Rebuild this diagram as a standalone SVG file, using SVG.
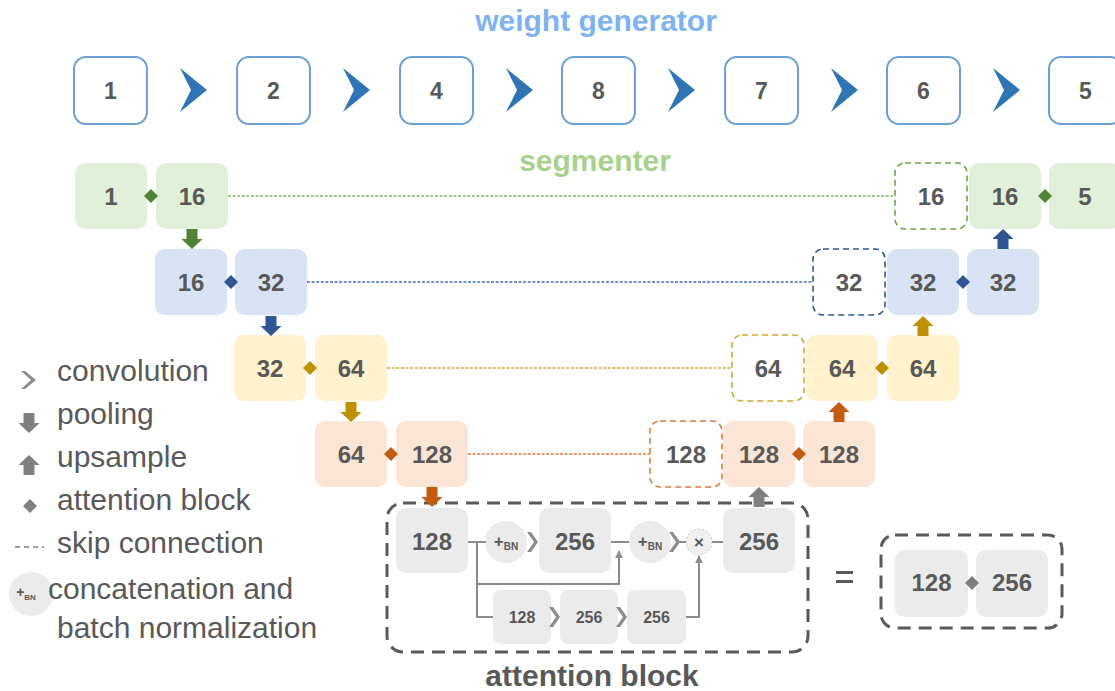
<svg xmlns="http://www.w3.org/2000/svg" width="1115" height="691" viewBox="0 0 1115 691">
<style>
text{font-family:"Liberation Sans",Arial,sans-serif;}
.lbl{font-size:24px;font-weight:bold;fill:#595959;text-anchor:middle;}
.top{font-size:23px;font-weight:bold;fill:#595959;text-anchor:middle;}
.sm{font-size:16px;font-weight:bold;fill:#595959;text-anchor:middle;}
.leg{font-size:30px;fill:#595959;}
.wg{fill:#fff;stroke:#6b9fd6;stroke-width:2;}
.g{fill:#e2efda;}
.b{fill:#dae3f3;}
.y{fill:#fff2cc;}
.o{fill:#fbe5d6;}
.gr{fill:#ebebeb;}
.dg{fill:#fff;stroke:#70a04a;stroke-width:1.6;stroke-dasharray:6,4;}
.db{fill:#fff;stroke:#2f5597;stroke-width:1.6;stroke-dasharray:6,4;}
.dy{fill:#fff;stroke:#d4a72c;stroke-width:1.6;stroke-dasharray:6,4;}
.do{fill:#fff;stroke:#e07838;stroke-width:1.6;stroke-dasharray:6,4;}
.skip{fill:none;stroke-width:1.6;stroke-dasharray:3,1.6;}
.al{fill:none;stroke:#8c8c8c;stroke-width:2;}
.chev{fill:#2e75b6;}
.gchev{fill:#8c8c8c;}
</style>
<defs>
<polygon id="chevBig" points="0,0 27,22 0,44 11,22"/>
<polygon id="chevSm" points="0,0 4,0 11,10 4,20 0,20 7,10"/>
<polygon id="down" points="-5.5,0 5.5,0 5.5,10 10.5,10 0,20 -10.5,10 -5.5,10"/>
<polygon id="up" points="0,0 10.5,10 5.5,10 5.5,20 -5.5,20 -5.5,10 -10.5,10"/>
<polygon id="dia" points="0,-7 7,0 0,7 -7,0"/>
<marker id="ah" viewBox="0 0 10 10" refX="9" refY="5" markerWidth="4" markerHeight="4" orient="auto"><path d="M0,0 L10,5 L0,10 z" fill="#8c8c8c"/></marker>
</defs>

<text x="596" y="31" style="font-size:30px;font-weight:bold;fill:#7fb2f0;text-anchor:middle">weight generator</text>
<text x="595" y="171" style="font-size:30px;font-weight:bold;fill:#a9d18e;text-anchor:middle">segmenter</text>

<!-- weight generator -->
<g id="wg1"><rect class="wg" x="74" y="57" width="73" height="67" rx="12"/><text class="top" x="110.5" y="99">1</text></g>
<g id="wg2"><rect class="wg" x="237" y="57" width="73" height="67" rx="12"/><text class="top" x="273.5" y="99">2</text></g>
<g id="wg4"><rect class="wg" x="400" y="57" width="73" height="67" rx="12"/><text class="top" x="436.5" y="99">4</text></g>
<g id="wg8"><rect class="wg" x="562" y="57" width="73" height="67" rx="12"/><text class="top" x="598.5" y="99">8</text></g>
<g id="wg7"><rect class="wg" x="725" y="57" width="73" height="67" rx="12"/><text class="top" x="761.5" y="99">7</text></g>
<g id="wg6"><rect class="wg" x="887" y="57" width="73" height="67" rx="12"/><text class="top" x="923.5" y="99">6</text></g>
<g id="wg5"><rect class="wg" x="1049" y="57" width="73" height="67" rx="12"/><text class="top" x="1085.5" y="99">5</text></g>

<!-- segmenter encoder -->
<g id="s1"><rect class="g" x="75" y="163" width="72" height="66" rx="10"/><text class="lbl" x="111" y="205">1</text></g>
<g id="s16a"><rect class="g" x="156" y="163" width="72" height="66" rx="10"/><text class="lbl" x="192" y="205">16</text></g>
<g id="s16b"><rect class="b" x="155" y="249" width="72" height="66" rx="10"/><text class="lbl" x="191" y="291">16</text></g>
<g id="s32a"><rect class="b" x="235" y="249" width="72" height="66" rx="10"/><text class="lbl" x="271" y="291">32</text></g>
<g id="s32b"><rect class="y" x="234" y="335" width="72" height="66" rx="10"/><text class="lbl" x="270" y="377">32</text></g>
<g id="s64a"><rect class="y" x="315" y="335" width="72" height="66" rx="10"/><text class="lbl" x="351" y="377">64</text></g>
<g id="s64b"><rect class="o" x="315" y="421" width="72" height="66" rx="10"/><text class="lbl" x="351" y="463">64</text></g>
<g id="s128a"><rect class="o" x="396" y="421" width="72" height="66" rx="10"/><text class="lbl" x="432" y="463">128</text></g>

<!-- segmenter decoder -->
<g id="d16s"><rect class="dg" x="895" y="163" width="72" height="66" rx="10"/><text class="lbl" x="931" y="205">16</text></g>
<g id="d16"><rect class="g" x="969" y="163" width="72" height="66" rx="10"/><text class="lbl" x="1005" y="205">16</text></g>
<g id="d5"><rect class="g" x="1049" y="163" width="72" height="66" rx="10"/><text class="lbl" x="1085" y="205">5</text></g>
<g id="d32s"><rect class="db" x="813" y="249" width="72" height="66" rx="10"/><text class="lbl" x="849" y="291">32</text></g>
<g id="d32a"><rect class="b" x="887" y="249" width="72" height="66" rx="10"/><text class="lbl" x="923" y="291">32</text></g>
<g id="d32b"><rect class="b" x="967" y="249" width="72" height="66" rx="10"/><text class="lbl" x="1003" y="291">32</text></g>
<g id="d64s"><rect class="dy" x="732" y="335" width="72" height="66" rx="10"/><text class="lbl" x="768" y="377">64</text></g>
<g id="d64a"><rect class="y" x="806" y="335" width="72" height="66" rx="10"/><text class="lbl" x="842" y="377">64</text></g>
<g id="d64b"><rect class="y" x="887" y="335" width="72" height="66" rx="10"/><text class="lbl" x="923" y="377">64</text></g>
<g id="d128s"><rect class="do" x="650" y="421" width="72" height="66" rx="10"/><text class="lbl" x="686" y="463">128</text></g>
<g id="d128a"><rect class="o" x="723" y="421" width="72" height="66" rx="10"/><text class="lbl" x="759" y="463">128</text></g>
<g id="d128b"><rect class="o" x="803" y="421" width="72" height="66" rx="10"/><text class="lbl" x="839" y="463">128</text></g>

<!-- attention block -->
<g id="attention-block">
<rect x="387" y="503" width="421" height="149" rx="16" fill="none" stroke="#5a5a5a" stroke-width="3" stroke-dasharray="13,8"/>
<g id="ab128"><rect class="gr" x="396" y="508" width="72" height="65" rx="10"/><text class="lbl" x="432" y="550">128</text></g>
<g id="abbn1"><circle cx="506" cy="542" r="21" fill="#ebebeb"/><text x="506" y="547" style="font-weight:bold;fill:#595959;text-anchor:middle"><tspan font-size="17">+</tspan><tspan font-size="10" dy="3">BN</tspan></text></g>
<g id="ab256a"><rect class="gr" x="539" y="508" width="72" height="65" rx="10"/><text class="lbl" x="575" y="550">256</text></g>
<g id="abbn2"><circle cx="650" cy="542" r="21" fill="#ebebeb"/><text x="650" y="547" style="font-weight:bold;fill:#595959;text-anchor:middle"><tspan font-size="17">+</tspan><tspan font-size="10" dy="3">BN</tspan></text></g>
<g id="abx"><circle cx="699" cy="542" r="13" fill="#f0f0f0" stroke="#c8c8c8" stroke-width="1" stroke-dasharray="2,2"/><text x="699" y="548" style="font-size:17px;font-weight:bold;fill:#595959;text-anchor:middle">×</text></g>
<g id="ab256b"><rect class="gr" x="723" y="508" width="72" height="65" rx="10"/><text class="lbl" x="759" y="550">256</text></g>
<g id="abs128"><rect class="gr" x="493" y="590" width="58" height="54" rx="8"/><text class="sm" x="522" y="623">128</text></g>
<g id="abs256a"><rect class="gr" x="560" y="590" width="58" height="54" rx="8"/><text class="sm" x="589" y="623">256</text></g>
<g id="abs256b"><rect class="gr" x="627" y="590" width="59" height="54" rx="8"/><text class="sm" x="656.5" y="623">256</text></g>
<text x="592" y="686" style="font-size:30px;font-weight:bold;fill:#595959;text-anchor:middle">attention block</text>
</g>

<!-- equals -->
<g id="equals">
<rect x="836" y="571" width="17" height="3" fill="#595959"/>
<rect x="836" y="580" width="17" height="3" fill="#595959"/>
<rect x="881" y="535" width="181" height="93" rx="14" fill="none" stroke="#5a5a5a" stroke-width="3" stroke-dasharray="13,8"/>
<g id="eq128"><rect class="gr" x="895" y="550" width="73" height="67" rx="10"/><text class="lbl" x="931.5" y="591">128</text></g>
<g id="eq256"><rect class="gr" x="976" y="550" width="72" height="67" rx="10"/><text class="lbl" x="1012" y="591">256</text></g>
</g>

<g id="connectors">
<g class="chev">
<use href="#chevBig" x="180" y="68"/><use href="#chevBig" x="343" y="68"/><use href="#chevBig" x="506" y="68"/>
<use href="#chevBig" x="668" y="68"/><use href="#chevBig" x="831" y="68"/><use href="#chevBig" x="993" y="68"/>
</g>
<!-- skip connections -->
<line class="skip" x1="228" y1="196" x2="895" y2="196" stroke="#84b066"/>
<line class="skip" x1="307" y1="282" x2="813" y2="282" stroke="#4a6db0"/>
<line class="skip" x1="387" y1="368" x2="732" y2="368" stroke="#d4a72c"/>
<line class="skip" x1="468" y1="454" x2="650" y2="454" stroke="#e07838"/>
<!-- pooling -->
<use href="#down" x="192" y="229" fill="#548235"/>
<use href="#down" x="271" y="316" fill="#2f5597"/>
<use href="#down" x="351" y="402" fill="#bf9000"/>
<use href="#down" x="432" y="487" fill="#c55a11"/>
<!-- upsample -->
<use href="#up" x="1003" y="229" fill="#2f5597"/>
<use href="#up" x="923" y="316" fill="#bf9000"/>
<use href="#up" x="839" y="402" fill="#c55a11"/>
<use href="#up" x="759" y="487" fill="#7f7f7f"/>
<!-- attention diamonds -->
<use href="#dia" x="151" y="196" fill="#548235"/>
<use href="#dia" x="231" y="282" fill="#2f5597"/>
<use href="#dia" x="310" y="368" fill="#bf9000"/>
<use href="#dia" x="391" y="454" fill="#c55a11"/>
<use href="#dia" x="1045" y="196" fill="#548235"/>
<use href="#dia" x="963" y="282" fill="#2f5597"/>
<use href="#dia" x="882" y="368" fill="#bf9000"/>
<use href="#dia" x="799" y="454" fill="#c55a11"/>
<use href="#dia" x="972" y="583" fill="#7f7f7f"/>
<!-- attention block internal lines -->
<line class="al" x1="468" y1="542" x2="486" y2="542"/>
<polyline class="al" points="477,542 477,617 493,617"/>
<polyline class="al" points="477,584 619,584 619,551" marker-end="url(#ah)"/>
<line class="al" x1="611" y1="542" x2="629" y2="542"/>
<polyline class="al" points="686,617 699,617 699,556" marker-end="url(#ah)"/>
<line class="al" x1="678" y1="542" x2="686" y2="542"/>
<line class="al" x1="712" y1="542" x2="723" y2="542"/>
<g class="gchev">
<use href="#chevSm" x="527" y="532"/>
<use href="#chevSm" x="669" y="532"/>
<use href="#chevSm" x="549" y="607"/>
<use href="#chevSm" x="616" y="607"/>
</g>
</g>

<!-- legend -->
<g id="legend">
<polygon points="21,371 25,371 36,380 25,389 21,389 31,380" fill="#8c8c8c"/>
<text class="leg" x="57" y="381">convolution</text>
<use href="#down" x="29" y="413" fill="#7f7f7f"/>
<text class="leg" x="57" y="424">pooling</text>
<use href="#up" x="29" y="455" fill="#7f7f7f"/>
<text class="leg" x="57" y="467">upsample</text>
<use href="#dia" x="30" y="506" fill="#7f7f7f"/>
<text class="leg" x="57" y="510">attention block</text>
<line x1="15" y1="547" x2="44" y2="547" stroke="#7f7f7f" stroke-width="1.6" stroke-dasharray="5,4"/>
<text class="leg" x="57" y="553">skip connection</text>
<circle cx="31" cy="594" r="22" fill="#ebebeb"/>
<text x="26" y="597" style="font-weight:bold;fill:#595959;text-anchor:middle"><tspan font-size="14">+</tspan><tspan font-size="8" dy="3">BN</tspan></text>
<text class="leg" x="48" y="599">concatenation and</text>
<text class="leg" x="57" y="638">batch normalization</text>
</g>
</svg>
